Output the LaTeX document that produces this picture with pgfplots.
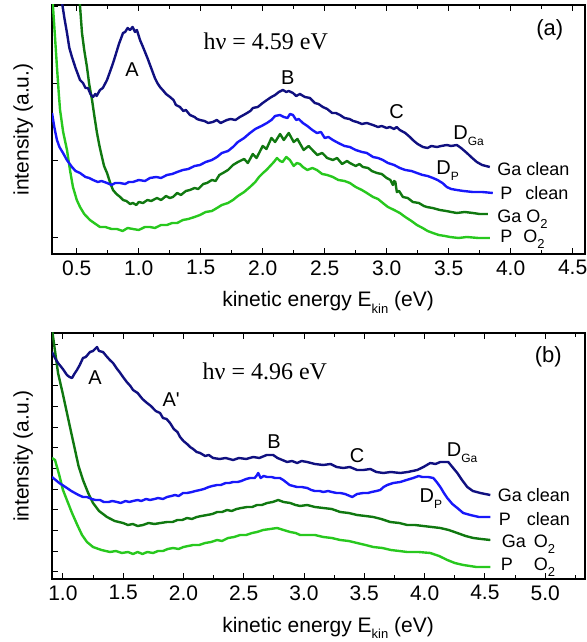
\documentclass[border=0pt]{standalone}
\usepackage{fontspec}
\setmainfont{Liberation Sans}
\newfontfamily\seriffont{Liberation Serif}
\newfontfamily\plainsans{Liberation Sans}
\usepackage{pgfplots}
\pgfplotsset{compat=1.18}
\definecolor{cGa}{RGB}{16,16,128}
\definecolor{cP}{RGB}{24,24,250}
\definecolor{cGaO}{RGB}{16,120,16}
\definecolor{cPO}{RGB}{40,200,30}
\newcommand\sub[1]{\raisebox{-0.3em}{\fontsize{13}{13}\selectfont #1}}
\newcommand\subs[1]{\raisebox{-0.3em}{\fontsize{12}{12}\selectfont #1}}
\tikzset{
  crv/.style={line width=2.4pt, line join=round},
  pk/.style={font=\fontsize{20}{20}\selectfont},
  sl/.style={font=\fontsize{18}{18}\selectfont, anchor=base west},
}
\pgfplotsset{
  myaxis/.style={
    scale only axis, width=533pt, anchor=south west,
    axis line style={line width=1.2pt},
    tick style={line width=1pt, black},
    major tick length=6pt, minor tick length=4pt,
    xtick pos=both, ytick pos=left, tick align=inside,
    yticklabels={},
    /pgf/number format/assume math mode=true,
    xticklabel style={font=\fontsize{21}{21}\selectfont, yshift=-3pt, /pgf/number format/.cd, fixed, fixed zerofill, precision=1},
    label style={font=\fontsize{21}{25}\selectfont},
    xlabel={kinetic energy E\sub{kin} (eV)},
    ylabel={intensity (a.u.)},
    xlabel style={at={(axis description cs:0.518,0)}, anchor=base, yshift=-53pt},
    ylabel style={at={(axis description cs:-0.054,0.5)}, anchor=center},
  },
}
\begin{document}
\begin{tikzpicture}[x=1pt,y=1pt]
\useasboundingbox (0,0) rectangle (586,642);
% ---------------- top panel (a)
\begin{axis}[myaxis, at={(52pt,388pt)}, height=249pt,
  xmin=0.3, xmax=4.6, ymin=0, ymax=249,
  xtick={0.5,1.0,1.5,2.0,2.5,3.0,3.5,4.0,4.5},
  minor xtick={0.75,1.25,1.75,2.25,2.75,3.25,3.75,4.25},
  ytick={16,93,170,247}]
% P O2
\addplot[crv, cPO, no markers] coordinates {
(0.300,262) (0.320,225) (0.340,187) (0.355,160) (0.365,144) (0.39,122) (0.421,104)
(0.445,84) (0.469,67) (0.50,54) (0.526,47) (0.56,40) (0.606,34) (0.64,31) (0.687,27)
(0.73,27) (0.78,25) (0.824,25) (0.87,23) (0.91,26) (0.953,25) (1.00,24) (1.05,27)
(1.090,27) (1.13,26) (1.18,29) (1.227,29) (1.27,31) (1.31,31) (1.356,34) (1.40,35)
(1.45,37) (1.494,39) (1.54,42) (1.59,43) (1.631,46) (1.67,49) (1.72,51) (1.760,54)
(1.80,58) (1.85,62) (1.897,67) (1.94,72) (1.97,77) (2.002,81) (2.03,84) (2.06,88)
(2.09,92) (2.115,96) (2.14,93) (2.16,92) (2.19,97) (2.219,94) (2.25,88) (2.276,91)
(2.30,90) (2.324,87) (2.36,84) (2.40,86) (2.437,84) (2.48,80) (2.52,79) (2.566,77)
(2.61,74) (2.66,73) (2.703,71) (2.75,67) (2.80,64) (2.840,61) (2.89,57) (2.93,55)
(2.969,51) (3.01,47) (3.06,44) (3.106,41) (3.15,37) (3.20,33) (3.244,29) (3.29,26)
(3.33,23) (3.373,21) (3.42,19) (3.47,18) (3.510,17) (3.58,16) (3.647,17) (3.74,16) (3.832,16)};
% Ga O2
\addplot[crv, cGaO, no markers] coordinates {
(0.520,258) (0.542,221) (0.56,204) (0.582,187) (0.60,170) (0.623,154) (0.643,137)
(0.663,121) (0.683,108) (0.703,97) (0.72,88) (0.744,81) (0.77,71) (0.792,64) (0.82,60)
(0.85,57) (0.873,54) (0.90,53) (0.93,50) (0.953,51) (0.98,49) (1.00,52) (1.034,51)
(1.07,54) (1.10,53) (1.147,56) (1.18,54) (1.22,58) (1.25,56) (1.276,57) (1.31,61)
(1.34,59) (1.38,63) (1.413,64) (1.45,66) (1.48,65) (1.52,70) (1.550,71) (1.59,74)
(1.62,73) (1.65,79) (1.679,81) (1.72,84) (1.760,89) (1.80,92) (1.85,95) (1.88,91)
(1.92,100) (1.95,96) (2.00,108) (2.03,105) (2.07,116) (2.10,112) (2.14,120) (2.17,114)
(2.21,121) (2.25,112) (2.28,115) (2.33,104) (2.37,108) (2.44,99) (2.48,101) (2.52,96)
(2.566,94) (2.60,96) (2.64,90) (2.68,93) (2.703,91) (2.75,88) (2.78,90) (2.808,87)
(2.85,86) (2.88,83) (2.921,81) (2.96,80) (3.00,76) (3.03,74) (3.050,69) (3.060,73)
(3.070,72) (3.082,62) (3.10,63) (3.131,57) (3.17,56) (3.211,52) (3.26,51) (3.30,48)
(3.324,47) (3.37,46) (3.429,44) (3.48,43) (3.52,42) (3.566,41) (3.63,42) (3.695,41)
(3.75,40) (3.816,40)};
% P clean
\addplot[crv, cP, no markers] coordinates {
(0.300,141) (0.32,126) (0.340,114) (0.36,107) (0.389,101) (0.42,94) (0.461,87)
(0.49,83) (0.526,81) (0.57,77) (0.60,76) (0.631,74) (0.67,72) (0.70,73) (0.744,71)
(0.78,69) (0.81,71) (0.848,71) (0.89,70) (0.92,72) (0.953,72) (1.00,74) (1.05,73)
(1.090,76) (1.14,77) (1.18,76) (1.227,79) (1.27,80) (1.31,82) (1.356,84) (1.40,85)
(1.45,88) (1.494,89) (1.54,92) (1.59,94) (1.631,97) (1.67,101) (1.72,103) (1.760,107)
(1.80,112) (1.85,116) (1.897,121) (1.94,125) (1.99,128) (2.034,131) (2.07,134)
(2.10,138) (2.139,139) (2.17,137) (2.20,136) (2.22,140) (2.244,139) (2.27,134)
(2.29,135) (2.324,131) (2.36,128) (2.40,124) (2.437,121) (2.47,122) (2.50,116)
(2.53,117) (2.566,114) (2.61,111) (2.66,108) (2.703,107) (2.75,104) (2.80,102)
(2.840,101) (2.89,97) (2.93,96) (2.969,94) (3.01,91) (3.06,89) (3.106,86) (3.15,84)
(3.20,83) (3.244,81) (3.29,79) (3.33,78) (3.373,76) (3.41,74) (3.45,71) (3.485,67)
(3.52,65) (3.566,64) (3.62,63) (3.695,62) (3.77,62) (3.856,61)};
% Ga clean
\addplot[crv, cGa, no markers] coordinates {
(0.375,256) (0.40,236) (0.421,221) (0.44,206) (0.461,197) (0.49,186) (0.526,174)
(0.55,171) (0.57,166) (0.590,166) (0.61,160) (0.631,157) (0.65,160) (0.66,158)
(0.687,164) (0.71,166) (0.744,174) (0.77,183) (0.79,190) (0.808,197) (0.84,210)
(0.873,221) (0.89,222) (0.91,226) (0.929,224) (0.95,227) (0.97,222) (0.985,224)
(1.01,214) (1.034,207) (1.07,196) (1.106,184) (1.13,176) (1.15,171) (1.171,167)
(1.20,163) (1.22,160) (1.252,157) (1.28,154) (1.30,149) (1.332,147) (1.36,143)
(1.38,144) (1.413,139) (1.45,137) (1.47,135) (1.494,134) (1.53,133) (1.56,131)
(1.598,132) (1.63,134) (1.66,131) (1.711,134) (1.74,135) (1.78,134) (1.816,137)
(1.86,140) (1.90,143) (1.921,146) (1.96,147) (2.00,151) (2.034,154) (2.07,157)
(2.10,159) (2.13,162) (2.163,164) (2.19,162) (2.21,163) (2.244,161) (2.27,158)
(2.30,160) (2.34,157) (2.381,156) (2.42,151) (2.45,150) (2.485,147) (2.52,145)
(2.56,141) (2.59,141) (2.623,139) (2.66,136) (2.70,135) (2.73,133) (2.760,132)
(2.80,130) (2.84,131) (2.889,129) (2.93,127) (2.96,128) (3.00,126) (3.026,127)
(3.06,125) (3.08,127) (3.106,124) (3.15,121) (3.187,117) (3.22,113) (3.25,110)
(3.292,107) (3.33,106) (3.36,108) (3.405,107) (3.44,108) (3.485,109) (3.52,108)
(3.566,109) (3.60,106) (3.647,101) (3.69,96) (3.727,92) (3.77,89) (3.832,87)};
\node[pk] at (axis cs:0.945,184) {A};
\node[pk] at (axis cs:2.203,176) {B};
\node[pk] at (axis cs:3.08,142) {C};
\node[pk, anchor=base west] at (axis cs:3.51,114) {D\subs{Ga}};
\node[pk, anchor=base west] at (axis cs:3.373,79) {D\subs{P}};
\node[anchor=base west, font=\seriffont\fontsize{24}{24}\selectfont] at (axis cs:1.494,204) {hν = 4.59 eV};
\node[font=\fontsize{22}{22}\selectfont] at (axis cs:4.316,224) {(a)};
\node[sl] at (axis cs:3.864,78) {Ga clean};
\node[sl] at (axis cs:3.889,54) {P\hspace{13pt}clean};
\node[sl] at (axis cs:3.864,31) {Ga O\sub{2}};
\node[sl] at (axis cs:3.889,11) {P\hspace{11pt}O\sub{2}};
\end{axis}
% ---------------- bottom panel (b)
\begin{axis}[myaxis, at={(52pt,63pt)}, height=246pt,
  xmin=0.91, xmax=5.33, ymin=0, ymax=246,
  xtick={1.0,1.5,2.0,2.5,3.0,3.5,4.0,4.5,5.0},
  minor xtick={1.25,1.75,2.25,2.75,3.25,3.75,4.25,4.75,5.25},
  ytick={7,27.7,48.4,69.1,89.8,110.5,131.2,151.9,172.6,193.3,214,234.7}]
% P O2
\addplot[crv, cPO, no markers] coordinates {
(0.910,121) (0.935,119) (0.97,104) (1.001,89) (1.04,77) (1.076,66) (1.12,54)
(1.159,44) (1.20,37) (1.250,32) (1.32,29) (1.391,27) (1.44,28) (1.49,26) (1.54,27) (1.582,25)
(1.62,27) (1.66,25) (1.70,27) (1.748,26) (1.79,28) (1.83,28) (1.87,30) (1.914,31) (1.96,30) (2.00,32)
(2.04,33) (2.080,34) (2.13,34) (2.18,36) (2.23,37) (2.279,39) (2.32,38) (2.37,41) (2.42,42) (2.470,44)
(2.52,44) (2.57,46) (2.61,47) (2.661,49) (2.72,50) (2.777,51) (2.83,49) (2.885,47)
(2.93,46) (2.968,44) (3.026,44) (3.09,44) (3.16,42) (3.23,41) (3.300,39) (3.37,38) (3.44,36)
(3.51,34) (3.574,32) (3.65,31) (3.72,29) (3.79,28) (3.856,27) (3.95,27) (4.047,26) (4.12,23)
(4.188,19) (4.25,16) (4.321,14) (4.43,12) (4.545,12)};
% Ga O2
\addplot[crv, cGaO, no markers] coordinates {
(0.910,250) (0.935,228) (0.960,206) (1.00,185) (1.034,166) (1.07,146) (1.101,129)
(1.13,113) (1.167,99) (1.21,86) (1.250,76) (1.30,68) (1.366,62) (1.43,58) (1.499,56)
(1.54,54) (1.58,55) (1.62,53) (1.665,54) (1.71,56) (1.76,55) (1.81,56) (1.864,57) (1.91,57)
(1.95,59) (1.99,59) (2.030,61) (2.07,60) (2.11,62) (2.15,63) (2.196,64) (2.24,65) (2.28,67) (2.32,67)
(2.362,69) (2.40,68) (2.44,70) (2.48,71) (2.528,72) (2.57,72) (2.61,74) (2.65,74) (2.694,76)
(2.74,77) (2.786,79) (2.83,77) (2.885,76) (2.93,74) (2.968,73) (3.026,74) (3.09,72) (3.16,71)
(3.23,70) (3.300,67) (3.37,66) (3.44,64) (3.51,63) (3.574,62) (3.64,60) (3.715,57) (3.79,56) (3.856,54)
(3.92,54) (3.989,53) (4.06,52) (4.130,51) (4.20,49) (4.271,46) (4.34,43) (4.404,41)
(4.47,40) (4.545,39)};
% P clean
\addplot[crv, cP, no markers] coordinates {
(0.910,102) (0.97,96) (1.034,91) (1.07,88) (1.10,86) (1.13,84) (1.167,82) (1.20,82) (1.24,80)
(1.27,79) (1.308,79) (1.34,77) (1.38,77) (1.41,78) (1.449,77) (1.48,76) (1.52,78) (1.55,77) (1.582,78)
(1.62,79) (1.65,78) (1.69,80) (1.723,79) (1.76,80) (1.79,81) (1.83,80) (1.864,82) (1.90,83) (1.93,84)
(1.96,83) (1.997,86) (2.03,86) (2.07,87) (2.10,88) (2.138,89) (2.17,90) (2.21,92) (2.24,93) (2.279,94)
(2.31,94) (2.35,96) (2.38,96) (2.412,97) (2.45,97) (2.48,98) (2.52,100) (2.553,101) (2.59,101)
(2.605,103) (2.620,106) (2.64,101) (2.665,103) (2.694,102) (2.73,102) (2.76,101) (2.80,101) (2.827,99)
(2.86,96) (2.88,94) (2.91,93) (2.943,92) (2.98,92) (3.026,91) (3.06,89) (3.09,88) (3.13,88) (3.159,87)
(3.20,88) (3.23,87) (3.27,86) (3.300,86) (3.34,85) (3.36,84) (3.400,82) (3.44,85) (3.491,86)
(3.53,86) (3.56,87) (3.60,88) (3.632,89) (3.66,92) (3.690,94) (3.74,96) (3.798,97) (3.85,99)
(3.906,101) (3.95,103) (3.981,102) (4.03,102) (4.072,101) (4.10,97) (4.130,92) (4.160,86)
(4.188,81) (4.23,75) (4.271,71) (4.32,66) (4.379,64) (4.45,62) (4.545,62)};
% Ga clean
\addplot[crv, cGa, no markers] coordinates {
(0.910,227) (0.935,221) (0.960,216) (1.00,210) (1.034,204) (1.055,202) (1.076,201)
(1.095,205) (1.117,209) (1.14,214) (1.167,221) (1.19,222) (1.225,227) (1.25,228)
(1.283,232) (1.30,228) (1.333,227) (1.36,223) (1.39,219) (1.416,216) (1.45,210)
(1.47,207) (1.499,202) (1.53,197) (1.56,193) (1.582,189) (1.62,186) (1.66,180)
(1.698,176) (1.73,173) (1.77,168) (1.806,166) (1.83,161) (1.86,160) (1.889,156)
(1.92,150) (1.95,147) (1.972,142) (2.00,138) (2.03,135) (2.055,132) (2.08,130)
(2.11,127) (2.138,126) (2.18,123) (2.21,124) (2.246,121) (2.30,120) (2.35,121)
(2.412,119) (2.46,121) (2.52,120) (2.578,122) (2.63,121) (2.69,124) (2.744,124)
(2.78,121) (2.82,119) (2.860,117) (2.90,118) (2.943,116) (2.98,118) (3.026,117)
(3.09,115) (3.159,114) (3.22,115) (3.27,112) (3.325,111) (3.38,112) (3.44,109)
(3.491,109) (3.55,110) (3.60,107) (3.657,106) (3.72,107) (3.798,106) (3.86,107)
(3.939,109) (3.99,112) (4.047,116) (4.09,115) (4.130,117) (4.17,117) (4.196,117)
(4.23,112) (4.271,106) (4.31,99) (4.354,92) (4.40,88) (4.462,86) (4.545,84)};
\node[pk] at (axis cs:1.267,201) {A};
\node[pk] at (axis cs:1.898,179) {\plainsans A'};
\node[pk] at (axis cs:2.752,137) {B};
\node[pk] at (axis cs:3.441,123) {C};
\node[pk, anchor=base west] at (axis cs:4.155,122) {D\subs{Ga}};
\node[pk, anchor=base west] at (axis cs:3.93,76) {D\subs{P}};
\node[anchor=base west, font=\seriffont\fontsize{24}{24}\selectfont] at (axis cs:2.13,199) {hν = 4.96 eV};
\node[font=\fontsize{22}{22}\selectfont] at (axis cs:5.026,222) {(b)};
\node[sl] at (axis cs:4.578,77) {Ga clean};
\node[sl] at (axis cs:4.586,53) {P\hspace{16pt}clean};
\node[sl] at (axis cs:4.611,31) {Ga\hspace{8pt}O\sub{2}};
\node[sl] at (axis cs:4.603,8) {P\hspace{21pt}O\sub{2}};
\end{axis}
\end{tikzpicture}
\end{document}
